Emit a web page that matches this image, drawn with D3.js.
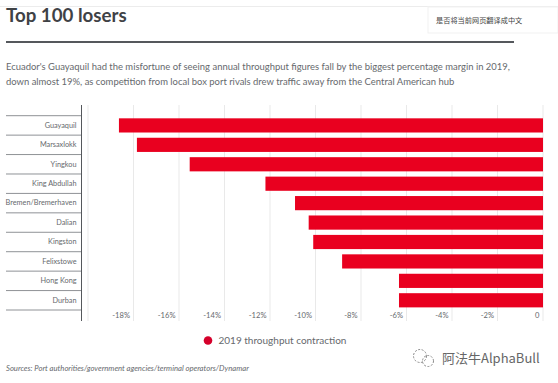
<!DOCTYPE html>
<html>
<head>
<meta charset="utf-8">
<script src="https://cdn.jsdelivr.net/npm/d3@7"></script>
<style>
  html, body { margin: 0; padding: 0; background: #fff; }
  svg { display: block; font-family: Lato, "Noto Sans", sans-serif; }
</style>
</head>
<body>
<div id="chart"></div>
<script>
const ports = ["Guayaquil", "Marsaxlokk", "Yingkou", "King Abdullah", "Bremen/Bremerhaven", "Dalian", "Kingston", "Felixstowe", "Hong Kong", "Durban"];
const contraction = [-18.64, -17.85, -15.53, -12.2, -10.9, -10.3, -10.1, -8.83, -6.33, -6.33];
const gridTicks = [-20, -18, -16, -14, -12, -10, -8, -6, -4, -2, 0];
const labelTicks = [-18, -16, -14, -12, -10, -8, -6, -4, -2, 0];

const subtitle = [
  "Ecuador's Guayaquil had the misfortune of seeing annual throughput figures fall by the biggest percentage margin in 2019,",
  "down almost 19%, as competition from local box port rivals drew traffic away from the Central American hub",
];

//size
const width = 558;
const height = 383;
const margin = { top: 115.7, bottom: 73, left: 81.5, right: 15 };
const textColor = "#66696d";

const svg = d3
  .select("#chart")
  .append("svg")
  .attr("width", width)
  .attr("height", height);

//scale
const xScale = d3.scaleLinear().domain([-20, 0]).range([88, 543]);
const yScale = d3
  .scaleBand()
  .domain(ports)
  .range([margin.top, height - margin.bottom])
  .paddingInner(0.27)
  .paddingOuter(0.135);

//browser chrome remains at the very top
svg.append("line")
  .attr("x1", 0).attr("x2", width)
  .attr("y1", 6.5).attr("y2", 6.5)
  .attr("stroke", "#ececec");

//header
svg.append("text")
  .attr("x", 6).attr("y", 22)
  .attr("font-size", 18.7).attr("font-weight", 700)
  .attr("fill", "#3f4246")
  .text("Top 100 losers");

svg.append("line")
  .attr("x1", 6).attr("x2", 514)
  .attr("y1", 42).attr("y2", 42)
  .attr("stroke", "#55585c").attr("stroke-width", 2);

svg.selectAll(".subtitle")
  .data(subtitle)
  .join("text")
  .attr("class", "subtitle")
  .attr("x", 6)
  .attr("y", (d, i) => 69.5 + i * 15)
  .attr("font-size", 9.45)
  .attr("fill", textColor)
  .text((d) => d);

//grid
svg.append("g")
  .selectAll("line")
  .data(gridTicks)
  .join("line")
  .attr("x1", (d) => xScale(d))
  .attr("x2", (d) => xScale(d))
  .attr("y1", 105)
  .attr("y2", 321)
  .attr("stroke", "#e9e9e9");

//bars
svg.append("g")
  .selectAll("rect")
  .data(ports)
  .join("rect")
  .attr("x", (d, i) => xScale(contraction[i]))
  .attr("y", (d) => yScale(d))
  .attr("width", (d, i) => xScale(0) - xScale(contraction[i]))
  .attr("height", yScale.bandwidth())
  .attr("fill", "#e9001f");

//x labels sit left of their gridline
svg.append("g")
  .attr("transform", `translate(0,${height - margin.bottom})`)
  .call(d3.axisBottom(xScale).tickValues(labelTicks).tickSize(0).tickFormat((d) => (d === 0 ? "0" : d + "%")))
  .call((g) => {
    g.select(".domain").remove();
    g.selectAll("text")
      .attr("text-anchor", "end")
      .attr("x", -4)
      .attr("y", 6)
      .attr("dy", "0.32em")
      .attr("font-size", 7.6)
      .attr("font-family", "Lato, sans-serif")
      .attr("fill", textColor);
  });

//category rows
const step = yScale.step();
svg.append("g")
  .selectAll("line")
  .data(d3.range(ports.length + 1))
  .join("line")
  .attr("x1", 6)
  .attr("x2", margin.left)
  .attr("y1", (d) => margin.top + d * step)
  .attr("y2", (d) => margin.top + d * step)
  .attr("stroke", "#8f9296");

svg.append("g")
  .attr("transform", `translate(${margin.left},0)`)
  .call(d3.axisLeft(yScale).tickSize(0).tickPadding(5))
  .call((g) => {
    g.select(".domain").remove();
    g.selectAll("text")
      .attr("font-size", 7.3)
      .attr("font-family", "Lato, sans-serif")
      .attr("fill", textColor);
  });

svg.append("line")
  .attr("x1", margin.left).attr("x2", margin.left)
  .attr("y1", 105).attr("y2", 321)
  .attr("stroke", "#55585c").attr("stroke-width", 1);

//legend
svg.append("circle")
  .attr("cx", 208).attr("cy", 340.5).attr("r", 4.3)
  .attr("fill", "#d5002b");
svg.append("text")
  .attr("x", 218.5).attr("y", 344)
  .attr("font-size", 10)
  .attr("fill", textColor)
  .text("2019 throughput contraction");

//source
svg.append("text")
  .attr("x", 6).attr("y", 371)
  .attr("font-size", 7.7)
  .attr("font-style", "italic")
  .attr("fill", textColor)
  .text("Sources: Port authorities/government agencies/terminal operators/Dynamar");

//translate popup
svg.append("rect")
  .attr("x", 428).attr("y", 7).attr("width", 130).attr("height", 26)
  .attr("fill", "#fff").attr("stroke", "#f1f1f1");
svg.append("text")
  .attr("x", 436).attr("y", 23)
  .attr("font-size", 7.2)
  .attr("font-family", "'Noto Sans CJK SC'")
  .attr("fill", "#444")
  .text("是否将当前网页翻译成中文");

//watermark
const wm = svg.append("g").attr("fill", "none").attr("stroke", "#8a8a8a").attr("stroke-dasharray", "2 1.5");
wm.append("circle").attr("cx", 420).attr("cy", 356).attr("r", 6.5);
wm.append("circle").attr("cx", 428).attr("cy", 361).attr("r", 5.5);
svg.append("text")
  .attr("x", 442).attr("y", 363)
  .attr("font-size", 13)
  .attr("font-family", "'Noto Sans CJK SC'")
  .attr("fill", "#666")
  .text("阿法牛AlphaBull");
</script>
</body>
</html>
